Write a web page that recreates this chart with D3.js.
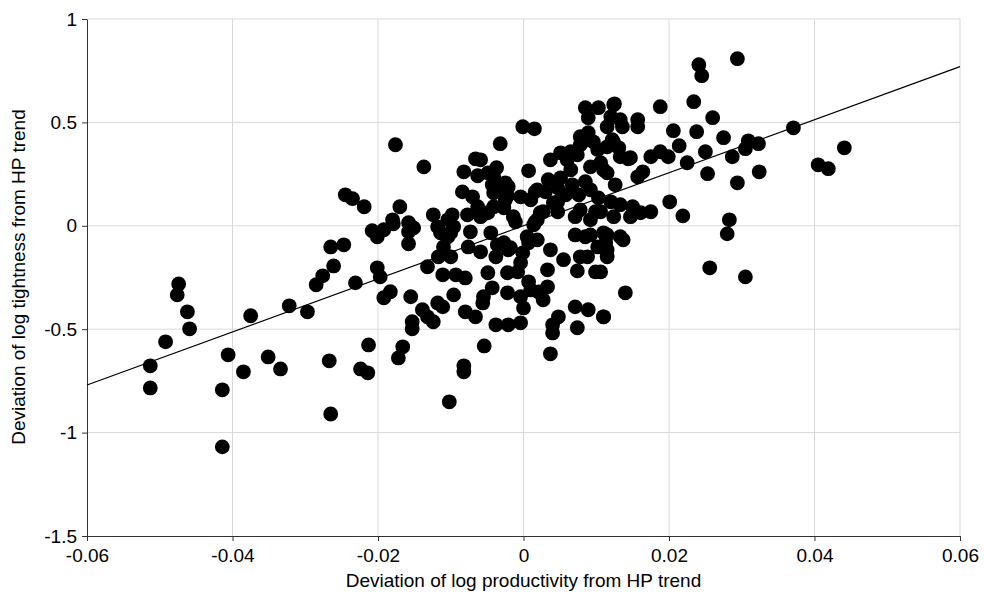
<!DOCTYPE html>
<html>
<head>
<meta charset="utf-8">
<script src="https://cdn.jsdelivr.net/npm/d3@7"></script>
<style>
    body { margin: 0; background: #fff; }
    .axis text { font-family: "Liberation Sans", Arial, sans-serif; font-size: 19px; fill: #000; }
    .axis path, .axis line { stroke: #333; }
    .grid line { stroke: #d9d9d9; }
    .title { font-family: "Liberation Sans", Arial, sans-serif; font-size: 19px; fill: #000; }
</style>
</head>
<body>
<div id="chart"></div>
<script>
var xTicks = [-0.06, -0.04, -0.02, 0, 0.02, 0.04, 0.06],
    yTicks = [-1.5, -1, -0.5, 0, 0.5, 1];

// fitted trend line end points
var trendX = [-0.06, 0.06],
    trendY = [-0.77, 0.77];

// deviation of log productivity (x) and log tightness (y)
var prodDev = [
    -0.0474, -0.0476, -0.0462, -0.0459, -0.0492, -0.0513, -0.0513, -0.0406, -0.0414, -0.0414,
    -0.0385, -0.0375, -0.0351, -0.0334, -0.0322, -0.0176, -0.0137, -0.0245, -0.0235, -0.0219,
    -0.0170, -0.0180, -0.0179, -0.0208, -0.0201, -0.0192, -0.0158, -0.0151, -0.0158, -0.0158,
    -0.0124, -0.0118, -0.0114, -0.0098, -0.0096, -0.0100, -0.0265, -0.0247, -0.0261, -0.0276,
    -0.0285, -0.0231, -0.0201, -0.0197, -0.0297, -0.0183, -0.0192, -0.0155, -0.0132, -0.0110,
    -0.0117, -0.0100, -0.0111, -0.0093, -0.0096, -0.0139, -0.0132, -0.0124, -0.0118, -0.0111,
    -0.0153, -0.0153, -0.0213, -0.0166, -0.0172, -0.0267, -0.0224, -0.0214, -0.0102, -0.0265,
    -0.0001, 0.0015, -0.0032, -0.0066, -0.0082, -0.0063, -0.0037, -0.0041, 0.0007, -0.0043,
    -0.0032, -0.0021, -0.0084, -0.0070, -0.0041, -0.0022, -0.0025, -0.0004, 0.0019, 0.0010,
    -0.0063, -0.0041, -0.0027, -0.0104, -0.0077, -0.0059, -0.0014, -0.0011, 0.0023, 0.0019,
    0.0014, 0.0041, 0.0047, 0.0037, 0.0051, 0.0060, 0.0078, 0.0089, 0.0096, 0.0085,
    0.0103, 0.0124, 0.0089, 0.0115, -0.0073, -0.0045, 0.0005, 0.0019, -0.0036, -0.0027,
    0.0037, -0.0076, -0.0059, -0.0104, 0.0071, 0.0092, 0.0110, 0.0102, 0.0115, -0.0038,
    -0.0021, -0.0001, -0.0004, 0.0007, 0.0055, 0.0088, 0.0115, -0.0080, -0.0049, -0.0022,
    -0.0008, 0.0033, 0.0074, 0.0099, -0.0055, -0.0043, -0.0056, -0.0022, -0.0004, 0.0007,
    0.0010, 0.0021, 0.0033, 0.0027, 0.0000, -0.0080, -0.0066, -0.0038, -0.0021, -0.0004,
    0.0048, 0.0040, 0.0040, 0.0071, 0.0089, 0.0110, 0.0074, -0.0054, -0.0082, -0.0082,
    0.0037, 0.0294, 0.0241, 0.0245, 0.0188, 0.0234, 0.0260, 0.0206, 0.0238, 0.0214,
    0.0275, 0.0309, 0.0323, 0.0305, 0.0287, 0.0250, 0.0371, 0.0225, 0.0253, 0.0324,
    0.0294, 0.0201, 0.0219, 0.0283, 0.0175, 0.0188, 0.0199, 0.0157, 0.0157, 0.0125,
    0.0120, 0.0133, 0.0136, 0.0122, 0.0115, 0.0131, 0.0144, 0.0106, 0.0115, 0.0157,
    0.0164, 0.0126, 0.0120, 0.0133, 0.0150, 0.0161, 0.0175, 0.0106, 0.0124, 0.0280,
    0.0256, 0.0305, 0.0140, 0.0110, 0.0115, 0.0113, 0.0133, 0.0137, 0.0106, 0.0147,
    0.0441, 0.0405, 0.0419, 0.0088, 0.0065, 0.0074, -0.0049, -0.0059, 0.0124, 0.0078,
    0.0102, 0.0147, 0.0133, 0.0092, 0.0110, 0.0085, -0.0025, 0.0016, 0.0047, 0.0027,
    -0.0049, 0.0016, 0.0071, 0.0078, -0.0018, 0.0078, 0.0085, 0.0099, 0.0092, 0.0034,
    0.0051, 0.0067, 0.0058, 0.0076, 0.0092, 0.0103, 0.0030, 0.0047, 0.0065
];

var tightDev = [
    -0.281, -0.334, -0.416, -0.498, -0.561, -0.677, -0.784, -0.624, -0.793, -1.069,
    -0.706, -0.435, -0.634, -0.692, -0.387, 0.392, 0.285, 0.150, 0.131, 0.092,
    0.092, 0.029, 0.010, -0.024, -0.053, -0.019, 0.015, -0.010, -0.029, -0.087,
    0.053, -0.005, -0.034, 0.053, -0.005, -0.034, -0.102, -0.092, -0.194, -0.242,
    -0.285, -0.276, -0.203, -0.247, -0.416, -0.319, -0.348, -0.343, -0.198, -0.102,
    -0.150, -0.150, -0.237, -0.237, -0.334, -0.406, -0.440, -0.464, -0.373, -0.392,
    -0.464, -0.498, -0.576, -0.585, -0.639, -0.653, -0.692, -0.711, -0.851, -0.910,
    0.479, 0.469, 0.397, 0.324, 0.261, 0.242, 0.281, 0.237, 0.266, 0.198,
    0.189, 0.189, 0.164, 0.140, 0.160, 0.145, 0.126, 0.140, 0.174, 0.126,
    0.092, 0.092, 0.087, 0.029, 0.053, 0.044, 0.044, 0.019, 0.063, 0.029,
    0.005, 0.111, 0.068, 0.319, 0.353, 0.319, 0.431, 0.450, 0.406, 0.571,
    0.571, 0.585, 0.523, 0.479, -0.029, -0.034, -0.053, -0.068, -0.092, -0.082,
    -0.116, -0.102, -0.126, -0.053, -0.044, -0.044, -0.034, -0.102, -0.116, -0.150,
    -0.116, -0.131, -0.179, -0.082, -0.164, -0.150, -0.150, -0.252, -0.227, -0.227,
    -0.223, -0.213, -0.218, -0.223, -0.343, -0.300, -0.373, -0.324, -0.343, -0.271,
    -0.310, -0.320, -0.295, -0.358, -0.397, -0.416, -0.440, -0.479, -0.479, -0.469,
    -0.440, -0.479, -0.518, -0.392, -0.406, -0.440, -0.493, -0.581, -0.677, -0.706,
    -0.619, 0.808, 0.779, 0.726, 0.576, 0.600, 0.523, 0.460, 0.455, 0.387,
    0.426, 0.411, 0.397, 0.373, 0.334, 0.358, 0.474, 0.305, 0.252, 0.261,
    0.208, 0.116, 0.048, 0.029, 0.334, 0.358, 0.334, 0.513, 0.479, 0.590,
    0.527, 0.513, 0.479, 0.416, 0.382, 0.377, 0.324, 0.305, 0.256, 0.237,
    0.261, 0.198, 0.116, 0.102, 0.092, 0.063, 0.068, 0.068, 0.044, -0.039,
    -0.203, -0.247, -0.324, -0.440, -0.044, -0.082, -0.053, -0.068, -0.223, 0.044,
    0.377, 0.295, 0.276, 0.416, 0.358, 0.343, 0.256, 0.319, 0.402, 0.392,
    0.368, 0.329, 0.334, 0.285, 0.271, 0.213, 0.208, 0.164, 0.116, 0.068,
    0.063, 0.019, 0.044, 0.077, -0.106, -0.150, -0.053, 0.068, 0.029, 0.223,
    0.232, 0.198, 0.150, 0.150, 0.174, 0.135, 0.164, 0.184, 0.271
];

var width = 984,
    height = 601,
    margin = {top: 19, right: 24, bottom: 65, left: 87};

var svg = d3.select('#chart')
    .append('svg')
    .attr('width', width)
    .attr('height', height);

var w = width - margin.left - margin.right,
    h = height - margin.top - margin.bottom;

var graph = svg.append('g')
    .attr('transform', 'translate(' + margin.left + ',' + margin.top + ')');

var x = d3.scaleLinear().domain([-0.06, 0.06]).range([0, w]),
    y = d3.scaleLinear().domain([-1.5, 1]).range([h, 0]);

// plain hyphen for negatives, like the original
var fmt = function(d) { return d3.format('~g')(d).replace('\u2212', '-'); };

// gridlines
var grid = graph.append('g').attr('class', 'grid');

grid.selectAll('line.gx')
    .data(xTicks.slice(1))
    .enter()
    .append('line')
    .attr('class', 'gx')
    .attr('x1', function(d) { return x(d); })
    .attr('x2', function(d) { return x(d); })
    .attr('y1', 0)
    .attr('y2', h);

grid.selectAll('line.gy')
    .data(yTicks.slice(1))
    .enter()
    .append('line')
    .attr('class', 'gy')
    .attr('x1', 0)
    .attr('x2', w)
    .attr('y1', function(d) { return y(d); })
    .attr('y2', function(d) { return y(d); });

// axes
graph.append('g')
    .attr('class', 'axis axis--x')
    .attr('transform', 'translate(0,' + h + ')')
    .call(d3.axisBottom(x).tickValues(xTicks).tickSize(5).tickSizeOuter(0).tickFormat(fmt))
    .selectAll('text')
    .attr('y', 11)
    .attr('dy', '0.8em');

graph.append('g')
    .attr('class', 'axis axis--y')
    .call(d3.axisLeft(y).tickValues(yTicks).tickSize(5).tickSizeOuter(0).tickFormat(fmt))
    .selectAll('text')
    .attr('x', -10);

// trend line
var line = d3.line()
    .x(function(d) { return x(d[0]); })
    .y(function(d) { return y(d[1]); });

graph.append('path')
    .datum(d3.zip(trendX, trendY))
    .attr('d', line)
    .attr('fill', 'none')
    .attr('stroke', '#000')
    .attr('stroke-width', 1.2);

// points
graph.selectAll('.dot')
    .data(d3.zip(prodDev, tightDev))
    .enter()
    .append('circle')
    .attr('class', 'dot')
    .attr('cx', function(d) { return x(d[0]); })
    .attr('cy', function(d) { return y(d[1]); })
    .attr('r', 7.4)
    .attr('fill', '#000');

// titles
svg.append('text')
    .attr('class', 'title')
    .attr('x', margin.left + w / 2)
    .attr('y', 587)
    .attr('text-anchor', 'middle')
    .text('Deviation of log productivity from HP trend');

svg.append('text')
    .attr('class', 'title')
    .attr('transform', 'translate(25,' + (margin.top + 258) + ') rotate(-90)')
    .attr('text-anchor', 'middle')
    .text('Deviation of log tightness from HP trend');
</script>
</body>
</html>
